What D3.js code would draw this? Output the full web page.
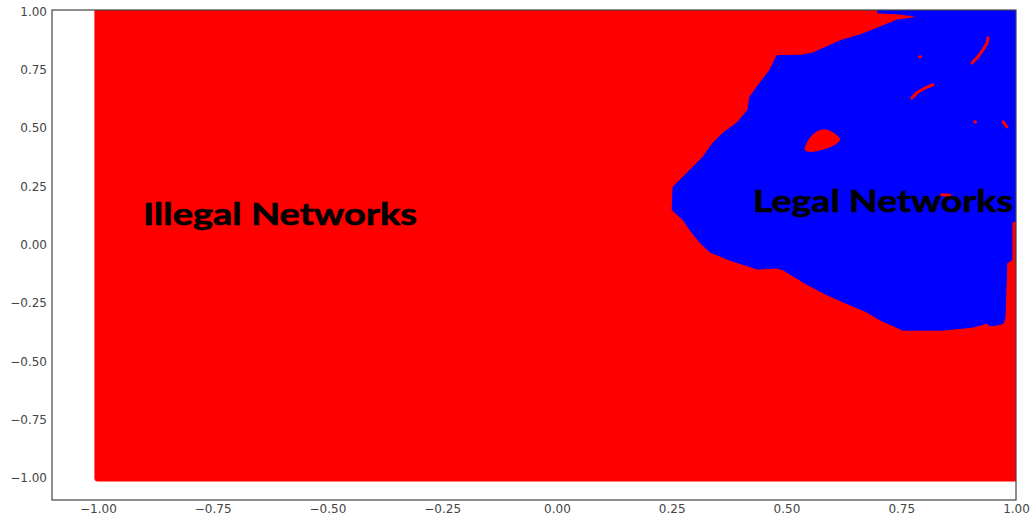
<!DOCTYPE html>
<html>
<head>
<meta charset="utf-8">
<script src="https://cdn.jsdelivr.net/npm/d3@7"></script>
<style>
  html, body { margin: 0; padding: 0; background: #fff; }
  svg { display: block; }
</style>
</head>
<body>
<svg id="chart" width="1031" height="520"></svg>
<script>
// ---------- data ----------
const xTicks = [-1.00, -0.75, -0.50, -0.25, 0.00, 0.25, 0.50, 0.75, 1.00];
const yTicks = [-1.00, -0.75, -0.50, -0.25, 0.00, 0.25, 0.50, 0.75, 1.00];
const gridExtent = [-1, 1]; // sampled square (Illegal class background)

// boundary of region classified as "Legal" (data coords)
const legalBoundary = [
  [0.699, 1.03], [1.03, 1.03], [1.03, 0.106], [0.991, 0.098], [0.991, -0.065],
  [0.980, -0.078], [0.976, -0.314], [0.972, -0.336], [0.965, -0.342], [0.943, -0.348],
  [0.937, -0.336], [0.906, -0.353], [0.841, -0.366], [0.754, -0.366], [0.704, -0.323],
  [0.675, -0.288], [0.623, -0.245], [0.580, -0.207], [0.536, -0.160], [0.493, -0.108],
  [0.479, -0.100], [0.436, -0.104], [0.377, -0.066], [0.333, -0.031], [0.312, 0.008],
  [0.290, 0.063], [0.275, 0.106], [0.251, 0.149], [0.253, 0.248], [0.283, 0.307],
  [0.318, 0.376], [0.340, 0.436], [0.362, 0.479], [0.392, 0.522], [0.416, 0.577],
  [0.420, 0.633], [0.442, 0.693], [0.464, 0.749], [0.479, 0.810], [0.536, 0.813],
  [0.558, 0.822], [0.617, 0.874], [0.660, 0.899], [0.704, 0.933], [0.741, 0.963],
  [0.791, 0.976], [0.747, 0.989], [0.699, 0.994]
];
// "Illegal" islands inside the legal region
const illegalIsland = [
  [0.540, 0.406], [0.551, 0.458], [0.569, 0.488], [0.590, 0.492],
  [0.617, 0.453], [0.606, 0.428], [0.577, 0.406], [0.551, 0.398]
];
const illegalStreaks = [
  [[0.773, 0.629], [0.784, 0.651], [0.802, 0.672], [0.819, 0.685]],
  [[0.904, 0.779], [0.917, 0.805], [0.928, 0.835], [0.937, 0.865], [0.939, 0.887]],
  [[0.790, 0.805], [0.792, 0.806]],
  [[0.910, 0.527], [0.912, 0.526]],
  [[0.972, 0.527], [0.980, 0.505]],
  [[0.838, 0.214], [0.856, 0.212]]
];
const classNames = ["Illegal Networks", "Legal Networks"];
const classAnchors = [[-0.902, 0.085], [0.427, 0.140]];

// ---------- chart ----------
const svg = d3.select("#chart");
const L = 52, R = 1016, T = 10, B = 500;
const x = d3.scaleLinear().domain([-1.1, 1.0]).range([L, R]);
const y = d3.scaleLinear().domain([-1.094, 1.006]).range([B, T]);

svg.append("defs").append("clipPath").attr("id", "clip")
  .append("rect").attr("x", L).attr("y", T).attr("width", R - L).attr("height", B - T);

const g = svg.append("g").attr("clip-path", "url(#clip)");
const r = 3.5; // marker radius of sampled points

g.append("rect")
  .attr("x", x(gridExtent[0]) - r)
  .attr("y", y(gridExtent[1]) - r)
  .attr("width", x(gridExtent[1]) - x(gridExtent[0]) + 2 * r)
  .attr("height", y(gridExtent[0]) - y(gridExtent[1]) + 2 * r)
  .attr("rx", r).attr("ry", r)
  .attr("fill", "#ff0000");

const line = d3.line().x(d => x(d[0])).y(d => y(d[1]));
const closedLine = d3.line().x(d => x(d[0])).y(d => y(d[1])).curve(d3.curveCatmullRomClosed);

g.append("path")
  .attr("d", line(legalBoundary) + "Z")
  .attr("fill", "#0000ff")
  .attr("stroke", "#0000ff")
  .attr("stroke-width", 1);

g.append("path")
  .attr("d", closedLine(illegalIsland))
  .attr("fill", "#ff0000");

g.selectAll("path.streak").data(illegalStreaks).join("path")
  .attr("class", "streak")
  .attr("d", d => line(d))
  .attr("fill", "none")
  .attr("stroke", "#ff0000")
  .attr("stroke-width", 3)
  .attr("stroke-linecap", "round")
  .attr("stroke-linejoin", "round");

// labels
const lengths = [274, 260];
svg.selectAll("text.cls").data(classNames).join("text")
  .attr("class", "cls")
  .attr("x", (d, i) => x(classAnchors[i][0]))
  .attr("y", (d, i) => y(classAnchors[i][1]))
  .attr("textLength", (d, i) => lengths[i])
  .attr("lengthAdjust", "spacingAndGlyphs")
  .attr("font-family", "Lato, 'Open Sans', sans-serif")
  .attr("font-weight", "bold")
  .attr("font-size", 30)
  .attr("fill", "#000")
  .attr("stroke", "#000")
  .attr("stroke-width", 0.6)
  .text(d => d);

// axes
const fmt = d3.format(".2f");
const xAxis = svg.append("g").attr("transform", `translate(0,${B})`)
  .call(d3.axisBottom(x).tickValues(xTicks).tickFormat(fmt).tickSize(0).tickPadding(4));
const yAxis = svg.append("g").attr("transform", `translate(${L},0)`)
  .call(d3.axisLeft(y).tickValues(yTicks).tickFormat(fmt).tickSize(0).tickPadding(5));
[xAxis, yAxis].forEach(a => {
  a.select(".domain").remove();
  a.selectAll("text")
    .attr("font-family", "'DejaVu Sans', sans-serif")
    .attr("font-size", 12)
    .attr("fill", "#444");
});

// spines
svg.append("rect")
  .attr("x", L).attr("y", T).attr("width", R - L).attr("height", B - T)
  .attr("fill", "none").attr("stroke", "#444").attr("stroke-width", 1.2);
</script>
</body>
</html>
